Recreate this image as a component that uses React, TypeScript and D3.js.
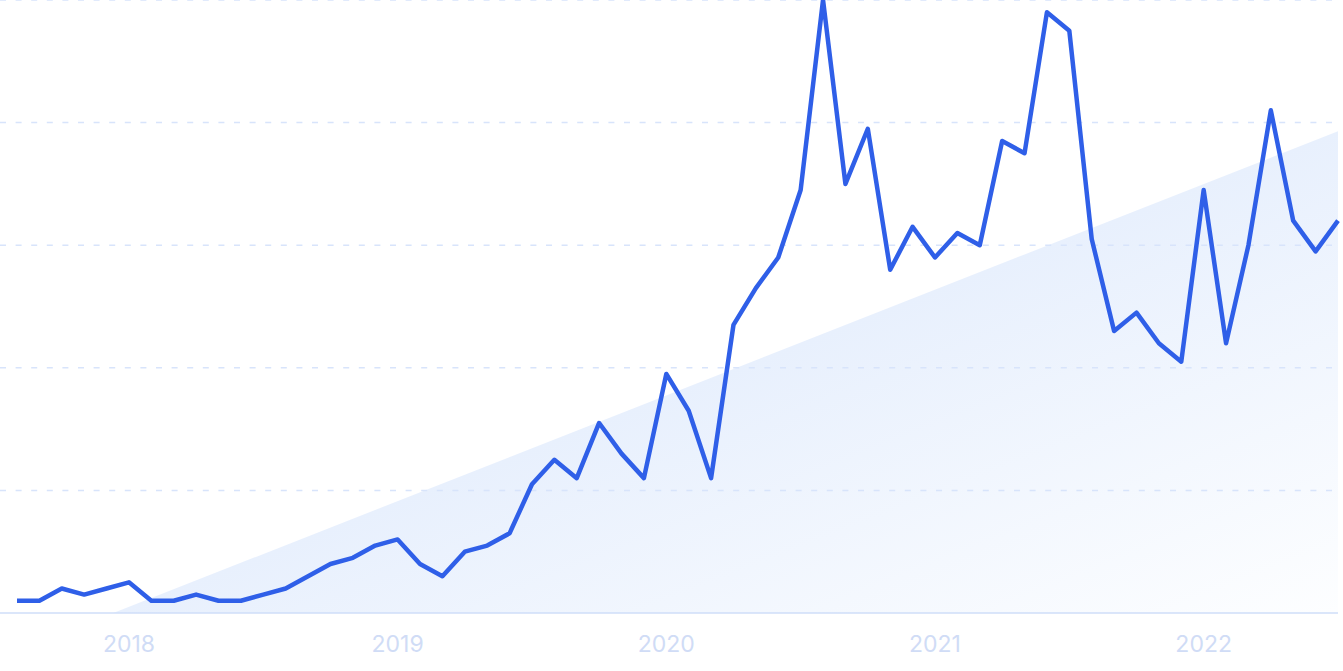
import React from "react";
import * as d3 from "d3";

const months: string[] = [
  "2017-08","2017-09","2017-10","2017-11","2017-12",
  "2018-01","2018-02","2018-03","2018-04","2018-05","2018-06","2018-07","2018-08","2018-09","2018-10","2018-11","2018-12",
  "2019-01","2019-02","2019-03","2019-04","2019-05","2019-06","2019-07","2019-08","2019-09","2019-10","2019-11","2019-12",
  "2020-01","2020-02","2020-03","2020-04","2020-05","2020-06","2020-07","2020-08","2020-09","2020-10","2020-11","2020-12",
  "2021-01","2021-02","2021-03","2021-04","2021-05","2021-06","2021-07","2021-08","2021-09","2021-10","2021-11","2021-12",
  "2022-01","2022-02","2022-03","2022-04","2022-05","2022-06","2022-07",
];

const values: number[] = [
  2, 2, 4, 3, 4,
  5, 2, 2, 3, 2, 2, 3, 4, 6, 8, 9, 11,
  12, 8, 6, 10, 11, 13, 21, 25, 22, 31, 26, 22,
  39, 33, 22, 47, 53, 58, 69, 100, 70, 79, 56, 63,
  58, 62, 60, 77, 75, 98, 95, 61, 46, 49, 44, 41,
  69, 44, 60, 82, 64, 59, 64,
];

const tickLabels: string[] = ["2018", "2019", "2020", "2021", "2022"];
const tickMonths: string[] = ["2018-01", "2019-01", "2020-01", "2021-01", "2022-01"];
const gridValues: number[] = [20, 40, 60, 80, 100];

// trend wedge (start index, value) -> (end index, value)
const trendIdx: number[] = [4.3, 59];
const trendVal: number[] = [0, 78.6];

const W = 1343;
const H = 671;

export default function App() {
  const x = d3.scaleLinear().domain([0, months.length - 1]).range([17, 1338]);
  const y = d3.scaleLinear().domain([0, 100]).range([613, 0]);

  const line = d3
    .line<number>()
    .x((_, i) => x(i))
    .y((d) => y(d));

  const trendPts = trendIdx.map((t, i) => ({ t, v: trendVal[i] }));
  const area = d3
    .area<{ t: number; v: number }>()
    .x((d) => x(d.t))
    .y0(y(0))
    .y1((d) => y(d.v));

  return (
    <svg
      width={W}
      height={H}
      style={{ position: "absolute", left: 0, top: 0, display: "block", background: "#fff" }}
    >
      <defs>
        <linearGradient id="wedge" x1="0" y1="0" x2="1" y2="1">
          <stop offset="0" stopColor="#d4e4fb" />
          <stop offset="0.5" stopColor="#e8f0fd" />
          <stop offset="1" stopColor="#fdfeff" />
        </linearGradient>
      </defs>
      <path d={area(trendPts) || ""} fill="url(#wedge)" />
      {gridValues.map((g) => (
        <line
          key={g}
          x1={0}
          x2={x(months.length - 1)}
          y1={y(g)}
          y2={y(g)}
          stroke="#d8e4fb"
          strokeWidth={1.5}
          strokeDasharray="6 9.6"
        />
      ))}
      <line
        x1={0}
        x2={x(months.length - 1)}
        y1={y(0)}
        y2={y(0)}
        stroke="#cfdef8"
        strokeWidth={1.5}
      />
      <path
        d={line(values) || ""}
        fill="none"
        stroke="#2f5fe8"
        strokeWidth={4.5}
        strokeLinejoin="round"
        strokeLinecap="butt"
      />
      {tickMonths.map((m, k) => (
        <text
          key={m}
          x={x(months.indexOf(m))}
          y={652}
          textAnchor="middle"
          fontFamily="Inter, 'Noto Sans', sans-serif"
          fontSize={23}
          fill="#d0dcf6"
        >
          {tickLabels[k]}
        </text>
      ))}
    </svg>
  );
}
